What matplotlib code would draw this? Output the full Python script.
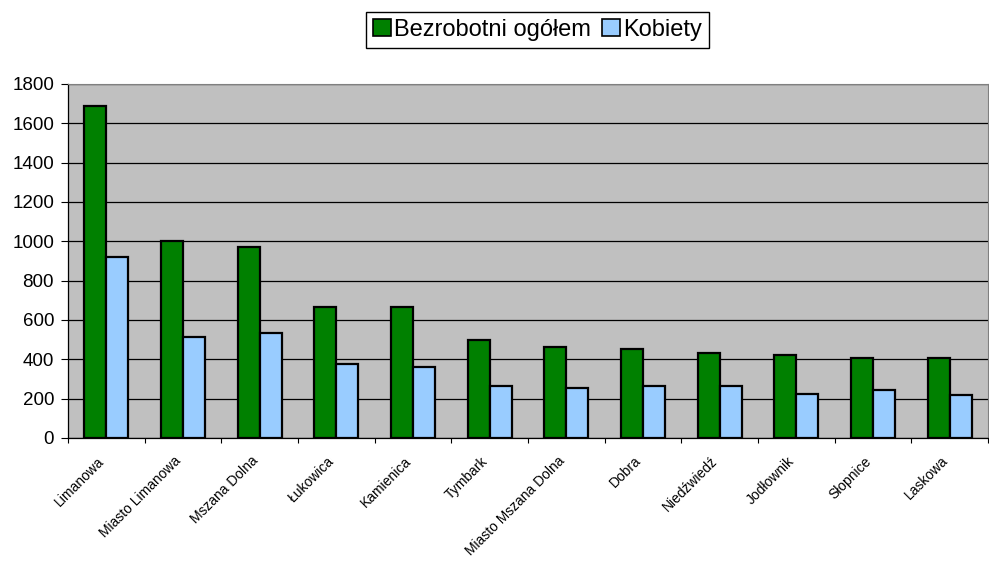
import numpy as np
import matplotlib.pyplot as plt
import matplotlib.transforms as mtransforms
from matplotlib.patches import Patch

# === Data ===
gminy = ['Limanowa', 'Miasto Limanowa', 'Mszana Dolna', 'Łukowica', 'Kamienica', 'Tymbark',
         'Miasto Mszana Dolna', 'Dobra', 'Niedźwiedź', 'Jodłownik', 'Słopnice', 'Laskowa']
bezrobotni = [1690, 1000, 972, 666, 664, 497, 463, 454, 431, 422, 405, 408]
kobiety = [922, 513, 534, 375, 359, 266, 256, 264, 266, 224, 242, 220]

plt.rcParams['font.family'] = ['Liberation Sans', 'DejaVu Sans']

green = '#008000'
blue = '#99CCFF'

# === Plot ===
fig = plt.figure(figsize=(9.89, 5.62), dpi=100)
ax = fig.add_axes([68 / 989, 1 - 438 / 562, 920 / 989, 354 / 562])
ax.set_facecolor('#C0C0C0')

x = np.arange(len(gminy))
w = 0.286
ax.bar(x - w / 2, bezrobotni, w, color=green, edgecolor='black', linewidth=1.6, zorder=3)
ax.bar(x + w / 2, kobiety, w, color=blue, edgecolor='black', linewidth=1.6, zorder=3)

ax.set_xlim(-0.5, len(gminy) - 0.5)
ax.set_ylim(0, 1800)
ax.set_yticks(range(0, 1801, 200))
ax.yaxis.grid(True, color='black', linewidth=0.9, zorder=1)
ax.set_axisbelow(True)

# tick marks between categories, labels at the centres
ax.set_xticks(np.arange(-0.5, len(gminy), 1))
ax.set_xticklabels([])
ax.set_xticks(x, minor=True)
ax.set_xticklabels(gminy, minor=True, rotation=45, ha='right', va='center',
                   rotation_mode='anchor', fontsize=10)
ax.tick_params(axis='x', which='major', direction='out', length=3.5, width=0.8)
ax.tick_params(axis='x', which='minor', length=0, pad=15)
ax.tick_params(axis='y', direction='out', length=5, width=0.8, labelsize=13.5, pad=5)

# nudge the slanted labels a little to the left
shift = mtransforms.ScaledTranslation(-4 / 100, 0, fig.dpi_scale_trans)
for lbl in ax.get_xticklabels(minor=True):
    lbl.set_transform(lbl.get_transform() + shift)

for side in ['top', 'right']:
    ax.spines[side].set_color('#808080')
    ax.spines[side].set_linewidth(0.8)
for side in ['left', 'bottom']:
    ax.spines[side].set_color('black')
    ax.spines[side].set_linewidth(0.9)

legend_handles = [
    Patch(facecolor=green, edgecolor='black', linewidth=1.2, label='Bezrobotni ogółem'),
    Patch(facecolor=blue, edgecolor='black', linewidth=1.2, label='Kobiety'),
]
leg = fig.legend(handles=legend_handles, loc='center', bbox_to_anchor=(537.5 / 989, 1 - 30 / 562),
                 ncol=2, fontsize=17, frameon=True, fancybox=False, edgecolor='black',
                 framealpha=1, handlelength=0.75, handleheight=0.75, handletextpad=0.15,
                 columnspacing=0.45, borderpad=0.28, borderaxespad=0)
leg.get_frame().set_linewidth(1.0)

fig.savefig('out.png', dpi=100)
